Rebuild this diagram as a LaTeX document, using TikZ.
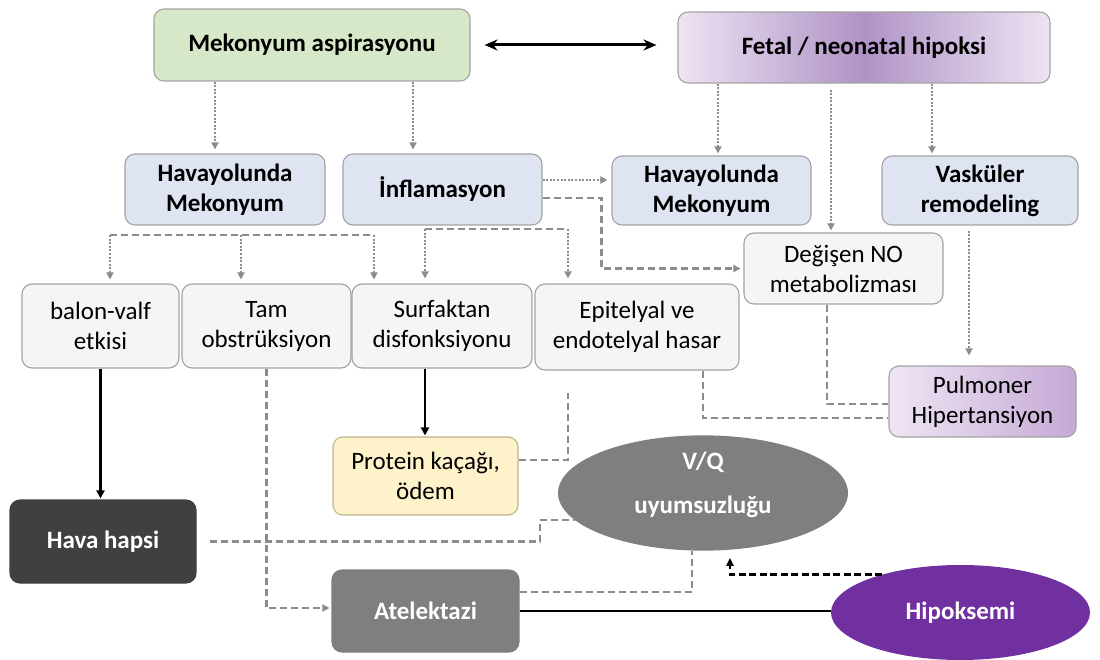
\documentclass[tikz,border=0pt]{standalone}
\usepackage{fontspec}
\setmainfont{Carlito}
\usetikzlibrary{arrows.meta,shapes.geometric,calc}

\definecolor{boxline}{HTML}{A3A3A3}
\definecolor{greenfill}{HTML}{D7E8C8}
\definecolor{bluefill}{HTML}{DEE4F2}
\definecolor{greyfill}{HTML}{F5F5F5}
\definecolor{yellowfill}{HTML}{FDF2C9}
\definecolor{yellowline}{HTML}{BDB48C}
\definecolor{purpleedge}{HTML}{EDE4F3}
\definecolor{purplemid}{HTML}{B093C6}
\definecolor{pulmleft}{HTML}{EEE5F3}
\definecolor{pulmright}{HTML}{C5A9D6}
\definecolor{darkbox}{HTML}{404040}
\definecolor{midgrey}{HTML}{7F7F7F}
\definecolor{hippurple}{HTML}{7030A0}
\definecolor{linkgrey}{HTML}{8C8C8C}

\tikzset{
  box/.style={draw=boxline, line width=1.1pt, rounded corners=10pt,
    inner sep=0pt, align=center, font=\fontsize{25}{30}\selectfont},
  boldbox/.style={box, font=\fontsize{25}{30}\selectfont\bfseries},
  oval/.style={ellipse, inner sep=0pt, align=center, text=white,
    font=\fontsize{25}{30}\selectfont\bfseries},
  tipg/.style={-{Triangle[length=7pt,width=7pt]}},
  dotline/.style={draw=linkgrey, line width=2.1pt, dash pattern=on 2pt off 1.6pt},
  dashline/.style={draw=linkgrey, line width=2.3pt, dash pattern=on 7pt off 4pt},
  dotarrow/.style={dotline, tipg},
  dasharrow/.style={dashline, tipg},
  solidarrow/.style={draw=black, line width=2.2pt, -{Triangle[length=8pt,width=8pt]}},
}

\begin{document}
\begin{tikzpicture}[x=1pt,y=-1pt]
\useasboundingbox (0,0) rectangle (1100,660);

% top row
\node[boldbox, fill=greenfill, minimum width=316pt, minimum height=72pt] (mek) at (312,45) {Mekonyum aspirasyonu};
\node[boldbox, left color=purpleedge, right color=purpleedge, middle color=purplemid,
      minimum width=372pt, minimum height=71pt] (fetal) at (864,47.5) {Fetal / neonatal hipoksi};

% second row
\node[boldbox, fill=bluefill, minimum width=200pt, minimum height=71pt] (hav1) at (225,189.5) {Havayolunda\\Mekonyum};
\node[boldbox, fill=bluefill, minimum width=199pt, minimum height=71pt] (inf) at (442.5,189.5) {İnflamasyon};
\node[boldbox, fill=bluefill, minimum width=199pt, minimum height=69pt] (hav2) at (711.5,190.5) {Havayolunda\\Mekonyum};
\node[boldbox, fill=bluefill, minimum width=196pt, minimum height=69pt] (vask) at (980,190.5) {Vasküler\\remodeling};

% mechanisms
\node[box, fill=greyfill, minimum width=199pt, minimum height=71pt] (deg) at (843.5,268.5) {Değişen NO\\metabolizması};
\node[box, fill=greyfill, minimum width=157pt, minimum height=84pt] (balon) at (100.5,326) {balon-valf\\etkisi};
\node[box, fill=greyfill, minimum width=169pt, minimum height=84pt] (tam) at (266.5,326) {Tam\\obstrüksiyon};
\node[box, fill=greyfill, minimum width=180pt, minimum height=84pt] (surf) at (442,326) {Surfaktan\\disfonksiyonu};
\node[box, fill=greyfill, minimum width=204pt, minimum height=86pt] (epi) at (637,327) {Epitelyal ve\\endotelyal hasar};
\node[box, left color=pulmleft, right color=pulmright, minimum width=187pt, minimum height=71pt] (pulm) at (982.5,401.5) {Pulmoner\\Hipertansiyon};

% consequences
\node[box, draw=yellowline, fill=yellowfill, minimum width=185pt, minimum height=78pt] (prot) at (425.5,476) {Protein kaçağı,\\ödem};
\node[boldbox, draw=darkbox, fill=darkbox, text=white, minimum width=186pt, minimum height=83pt] (hava) at (103,541.5) {Hava hapsi};
\node[boldbox, draw=midgrey, fill=midgrey, text=white, minimum width=187pt, minimum height=82pt] (ate) at (425.5,611) {Atelektazi};
\node[oval, fill=midgrey, minimum width=290pt, minimum height=104pt] (vq) at (703,493) {V/Q\\[14pt]uyumsuzluğu\\[-10pt]};
\node[oval, fill=hippurple, minimum width=259pt, minimum height=95pt] (hip) at (960.5,612.5) {Hipoksemi};

% two-way link between the two causes
\draw[line width=3pt, {Stealth[length=13pt,width=11pt]}-{Stealth[length=13pt,width=11pt]}, shorten <=14pt, shorten >=21pt]
  (mek.east) -- (mek.east -| fetal.west);

% dotted links from the causes
\draw[dotarrow, shorten >=4pt] ([xshift=-97pt]mek.south) -- ([xshift=-97pt]mek.south |- hav1.north);
\draw[dotarrow, shorten >=4pt] ([xshift=101pt]mek.south) -- ([xshift=101pt]mek.south |- inf.north);
\draw[dotarrow, shorten >=2pt] ([xshift=-146pt]fetal.south) -- ([xshift=-146pt]fetal.south |- hav2.north);
\draw[dotarrow, shorten >=2pt] ([xshift=68pt]fetal.south) -- ([xshift=68pt]fetal.south |- vask.north);
\draw[dotarrow, shorten <=6pt, shorten >=2pt] ([xshift=-33pt]fetal.south) -- ([xshift=-33pt]fetal.south |- deg.north);
\draw[dotarrow, shorten <=5pt, shorten >=10pt] ([xshift=-11pt]vask.south) -- ([xshift=-11pt]vask.south |- pulm.north);

% links out of inflammation
\draw[dotarrow, shorten >=4pt] ([yshift=9.5pt]inf.east) -- ([yshift=9.5pt]inf.east -| hav2.west);
\draw[dasharrow, shorten >=3pt] ([yshift=-8.5pt]inf.east) -- ++(59,0) |- (deg.west);

% bracket over the airway mechanisms
\coordinate (barA) at (110,235);
\coordinate (barM) at (241,235);
\coordinate (barB) at (374,235);
\draw[dashline] (barA) -- (barB);
\draw[dotarrow, shorten >=4pt] (barA) -- (barA |- balon.north);
\draw[dotarrow, shorten >=4pt] (barM) -- (barM |- tam.north);
\draw[dotarrow, shorten >=4pt] (barB) -- (barB |- surf.north);

% bracket over surfactant and epithelial damage
\coordinate (barC) at (425,229);
\coordinate (barD) at (568,229);
\draw[dashline] (barC) -- (barD);
\draw[dotarrow, shorten >=5pt] (barC) -- (barC |- surf.north);
\draw[dotarrow, shorten >=5pt] (barD) -- (barD |- epi.north);

% pulmonary hypertension inputs
\draw[dashline] ([xshift=-16.5pt]deg.south) |- ([yshift=-2.5pt]pulm.west);
\draw[dashline] ([xshift=66pt]epi.south) |- ([yshift=-16.5pt]pulm.west);

% solid arrows
\draw[solidarrow, shorten >=1pt] (balon.south) -- (balon.south |- hava.north);
\draw[solidarrow, shorten >=1pt] ([xshift=-17pt]surf.south) -- ([xshift=-17pt]surf.south |- prot.north);

% protein leak branch
\coordinate (protTop) at (568,393);
\draw[dashline] ([yshift=16pt]prot.east) -| (protTop);

% air trapping to V/Q
\draw[dashline] ([xshift=13pt]hava.east) -| ($(vq.192)+(-35,0)$) -- (vq.192);

% complete obstruction to atelectasis
\draw[dasharrow, shorten >=2pt] (tam.south) |- ([yshift=3pt]ate.west);

% atelectasis links
\draw[dashline] ([yshift=19pt]ate.east) -| ([xshift=-11pt]vq.south);
\draw[draw=black, line width=2.2pt] (ate.east) -- (ate.east -| hip.west);

% hypoxaemia back to V/Q
\draw[draw=black, line width=2.6pt, dash pattern=on 7pt off 3.5pt, -{Triangle[length=8pt,width=7pt]}]
  (hip.154) -| ([xshift=27pt,yshift=-7pt]vq.south);

\end{tikzpicture}
\end{document}
